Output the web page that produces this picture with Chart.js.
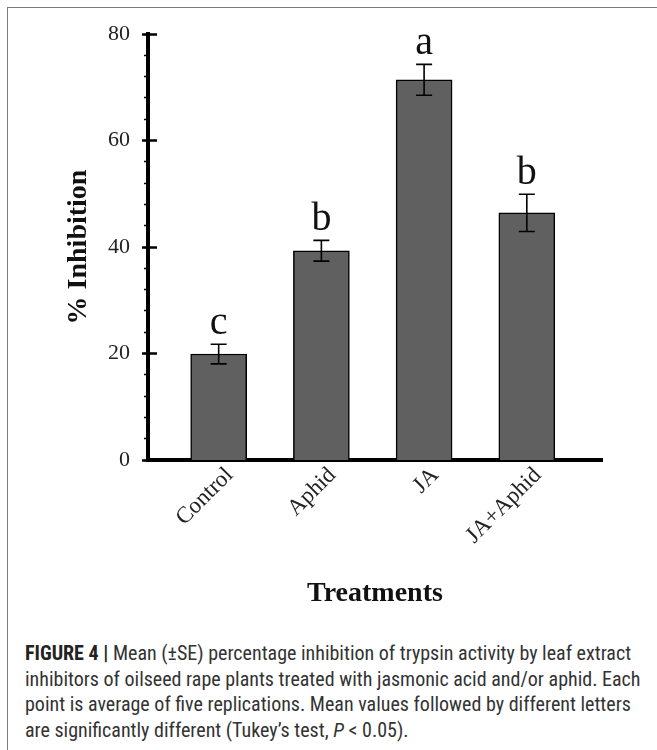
<!DOCTYPE html>
<html>
<head>
<meta charset="utf-8">
<script src="https://cdn.jsdelivr.net/npm/chart.js@4"></script>
<style>
  body { margin: 0; background: #fff; width: 657px; height: 750px; overflow: hidden; position: relative; }
  #frame { position: absolute; left: 7px; top: 7px; width: 700px; height: 800px; border: 1.5px solid #7a7a7a; }
  #wrap { position: absolute; left: 0; top: 0; width: 657px; height: 620px; }
  #caption {
    position: absolute; left: 25px; top: 641px; width: 630px;
    font-family: "Liberation Sans Narrow", "Roboto Condensed", "Liberation Sans", sans-serif;
    font-size: 20px; line-height: 25.5px; color: #333; white-space: nowrap;
  }
  #caption b { color: #222; }
</style>
</head>
<body>
<div id="frame"></div>
<div id="wrap"><canvas id="chart" width="657" height="620"></canvas></div>
<div id="caption">
  <b>FIGURE 4 |</b> Mean (&plusmn;SE) percentage inhibition of trypsin activity by leaf extract<br>
  inhibitors of oilseed rape plants treated with jasmonic acid and/or aphid. Each<br>
  point is average of five replications. Mean values followed by different letters<br>
  are significantly different (Tukey&rsquo;s test, <i>P</i> &lt; 0.05).
</div>
<script>
// data
var categories = ["Control", "Aphid", "JA", "JA+Aphid"];
var means = [19.9, 39.3, 71.4, 46.4];
var errors = [1.85, 1.95, 2.9, 3.5];
var letters = ["c", "b", "a", "b"];
var y_ticks = [0, 20, 40, 60, 80];

// x range so the bars sit where they do in the original
var x_min = -0.688;
var x_max = 3.732;

var serif = "'Liberation Serif', 'DejaVu Serif', serif";

var error_bars = {
  id: "error_bars",
  afterDatasetsDraw: function (chart) {
    var ctx = chart.ctx;
    var xs = chart.scales.x;
    var ys = chart.scales.y;
    ctx.save();
    ctx.strokeStyle = "#000";
    ctx.lineWidth = 1.6;
    for (var i = 0; i < means.length; i++) {
      var x = xs.getPixelForValue(i);
      var top = ys.getPixelForValue(means[i] + errors[i]);
      var bot = ys.getPixelForValue(means[i] - errors[i]);
      ctx.beginPath();
      ctx.moveTo(x, top); ctx.lineTo(x, bot);
      ctx.moveTo(x - 8, top); ctx.lineTo(x + 8, top);
      ctx.moveTo(x - 8, bot); ctx.lineTo(x + 8, bot);
      ctx.stroke();

      ctx.fillStyle = "#111";
      ctx.font = "40px " + serif;
      ctx.textAlign = "center";
      ctx.textBaseline = "alphabetic";
      ctx.fillText(letters[i], x, top - 10);
    }
    ctx.restore();
  }
};

var ctx = document.getElementById("chart").getContext("2d");

var chart = new Chart(ctx, {
  type: "bar",
  data: {
    datasets: [{
      data: means.map(function (v, i) { return { x: i, y: v }; }),
      backgroundColor: "#606060",
      borderColor: "#000",
      borderWidth: 1.5,
      barThickness: 56
    }]
  },
  options: {
    responsive: false,
    animation: false,
    layout: { padding: { top: 34, right: 55, bottom: 0, left: 0 } },
    plugins: { legend: { display: false }, tooltip: { enabled: false } },
    scales: {
      x: {
        type: "linear",
        position: "bottom",
        offset: false,
        min: x_min,
        max: x_max,
        afterBuildTicks: function (scale) {
          scale.ticks = categories.map(function (c, i) { return { value: i }; });
        },
        afterFit: function (scale) { scale.height = 160; },
        grid: { display: false, drawTicks: false, offset: false },
        border: { display: true, width: 4, color: "#000" },
        ticks: {
          autoSkip: false,
          minRotation: 45,
          maxRotation: 45,
          padding: 2,
          labelOffset: 11,
          color: "#222",
          font: { family: serif, size: 23 },
          callback: function (v) { return categories[v]; }
        },
        title: {
          display: true,
          text: "Treatments",
          color: "#111",
          font: { family: serif, size: 28, weight: "bold" },
          padding: { top: 0, bottom: 9 }
        }
      },
      y: {
        type: "linear",
        position: "left",
        min: 0,
        max: 80,
        afterBuildTicks: function (scale) {
          scale.ticks = y_ticks.map(function (v) { return { value: v }; });
        },
        afterFit: function (scale) { scale.width = 148; },
        grid: { display: false, drawTicks: false },
        border: { display: true, width: 4, color: "#000" },
        ticks: {
          padding: 18,
          color: "#222",
          font: { family: serif, size: 22 }
        },
        title: {
          display: true,
          text: "% Inhibition",
          color: "#111",
          font: { family: serif, size: 28, weight: "bold" },
          padding: { top: 62, bottom: 0 }
        }
      },
      // short minor ticks on the outside of the axis
      yMinor: {
        type: "linear",
        axis: "y",
        position: { x: x_min },
        min: 0,
        max: 80,
        ticks: { display: false, stepSize: 4 },
        grid: { drawOnChartArea: false, drawTicks: true, tickLength: 4, tickWidth: 1.5, tickColor: "#000" },
        border: { display: false }
      },
      // major ticks crossing the axis
      yMajor: {
        type: "linear",
        axis: "y",
        position: { x: x_min + 0.083 },
        min: 0,
        max: 80,
        afterBuildTicks: function (scale) {
          scale.ticks = y_ticks.map(function (v) { return { value: v }; });
        },
        ticks: { display: false },
        grid: { drawOnChartArea: false, drawTicks: true, tickLength: 15, tickWidth: 2.5, tickColor: "#000" },
        border: { display: false }
      }
    }
  },
  plugins: [error_bars]
});
</script>
</body>
</html>
